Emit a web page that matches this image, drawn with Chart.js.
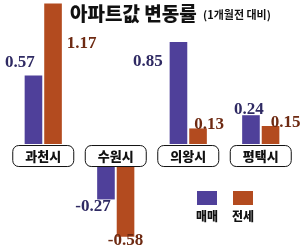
<!DOCTYPE html>
<html>
<head>
<meta charset="utf-8">
<script src="https://cdn.jsdelivr.net/npm/chart.js@4/dist/chart.umd.min.js"></script>
<style>
  html, body { margin: 0; padding: 0; background: #fff; }
  #wrap { position: relative; width: 308px; height: 250px; }
</style>
</head>
<body>
<div id="wrap"><canvas id="c"></canvas></div>
<script>
const cities = ['과천시', '수원시', '의왕시', '평택시'];
const maemae = [0.57, -0.27, 0.85, 0.24];
const jeonse = [1.17, -0.58, 0.13, 0.15];
const seriesNames = ['매매', '전세'];

const PURPLE = '#4f409a';
const ORANGE = '#b34b1f';
const GAP = 23; // room for the city name boxes under the zero line
const KR = '"Noto Sans CJK KR Black", "Noto Sans CJK KR"';

// negative bars hang below the name boxes
const shiftNegatives = {
  id: 'shiftNegatives',
  afterDatasetsUpdate(chart) {
    chart.data.datasets.forEach((ds, i) => {
      chart.getDatasetMeta(i).data.forEach((bar, j) => {
        if (ds.data[j] < 0) {
          bar.y += GAP;
          bar.base += GAP;
        }
      });
    });
  }
};

// value labels, placed next to each bar like the print graphic
const valueLabels = {
  id: 'valueLabels',
  afterDatasetsDraw(chart) {
    const ctx = chart.ctx;
    ctx.save();
    ctx.font = 'bold 17px "Liberation Serif"';
    ctx.textBaseline = 'middle';
    // [dataset][category] -> [edge, dx, dy, align] relative to bar end
    const place = [
      [['L', 10, -13, 'right'], ['R', -4, 7, 'right'], ['L', -7, 20, 'right'], ['C', -2, -6, 'center']],
      [['R', 5, 40, 'left'], ['C', 0, 4, 'center'], ['L', 5, -4, 'left'], ['L', 9, -3, 'left']]
    ];
    chart.data.datasets.forEach((ds, i) => {
      ctx.fillStyle = i === 0 ? '#2f2a63' : '#6e2a12';
      chart.getDatasetMeta(i).data.forEach((bar, j) => {
        const v = ds.data[j];
        const [edge, dx, dy, align] = place[i][j];
        let x = bar.x;
        if (edge === 'L') x = bar.x - bar.width / 2;
        if (edge === 'R') x = bar.x + bar.width / 2;
        ctx.textAlign = align;
        const txt = v < 0 ? '-' + Math.abs(v).toFixed(2) : v.toFixed(2);
        ctx.fillText(txt, x + dx, bar.y + dy);
      });
    });
    ctx.restore();
  }
};

// city name boxes on the zero line, title and legend
const decorations = {
  id: 'decorations',
  afterDraw(chart) {
    const ctx = chart.ctx;
    const x = chart.scales.x;
    const zero = chart.scales.y.getPixelForValue(0);
    ctx.save();
    cities.forEach((name, i) => {
      const cx = x.getPixelForValue(i);
      const w = 61, h = 21, y0 = zero + 1.5;
      ctx.beginPath();
      ctx.roundRect(cx - w / 2, y0, w, h, 6);
      ctx.fillStyle = '#fff';
      ctx.fill();
      ctx.lineWidth = 1;
      ctx.strokeStyle = '#111';
      ctx.stroke();
      ctx.fillStyle = '#111';
      ctx.font = '900 13px ' + KR;
      ctx.textAlign = 'center';
      ctx.textBaseline = 'middle';
      ctx.fillText(name, cx, y0 + h / 2 + 0.5);
    });

    ctx.textAlign = 'left';
    ctx.textBaseline = 'middle';
    ctx.fillStyle = '#111';
    ctx.font = '900 19px ' + KR;
    ctx.fillText('아파트값 변동률', 70, 14);
    ctx.font = 'bold 11px "Noto Sans CJK KR"';
    ctx.fillText('(1개월전 대비)', 203, 15);

    const colors = [PURPLE, ORANGE];
    seriesNames.forEach((n, i) => {
      const lx = 197 + i * 36;
      ctx.fillStyle = colors[i];
      ctx.fillRect(lx, 191, 20, 14);
      ctx.fillStyle = '#111';
      ctx.font = '900 12px ' + KR;
      ctx.textAlign = 'center';
      ctx.fillText(n, lx + 10, 216);
    });
    ctx.restore();
  }
};

new Chart(document.getElementById('c'), {
  type: 'bar',
  data: {
    labels: cities,
    datasets: [
      { label: seriesNames[0], data: maemae, backgroundColor: PURPLE },
      { label: seriesNames[1], data: jeonse, backgroundColor: ORANGE }
    ]
  },
  options: {
    responsive: true,
    maintainAspectRatio: false,
    animation: false,
    layout: { padding: { left: 7, right: 11, top: 0, bottom: 0 } },
    categoryPercentage: 0.54,
    barPercentage: 0.9,
    plugins: {
      legend: { display: false },
      tooltip: { enabled: false }
    },
    scales: {
      x: { display: false },
      y: { display: false, min: -0.883, max: 1.2 }
    }
  },
  plugins: [shiftNegatives, valueLabels, decorations]
});
</script>
</body>
</html>
